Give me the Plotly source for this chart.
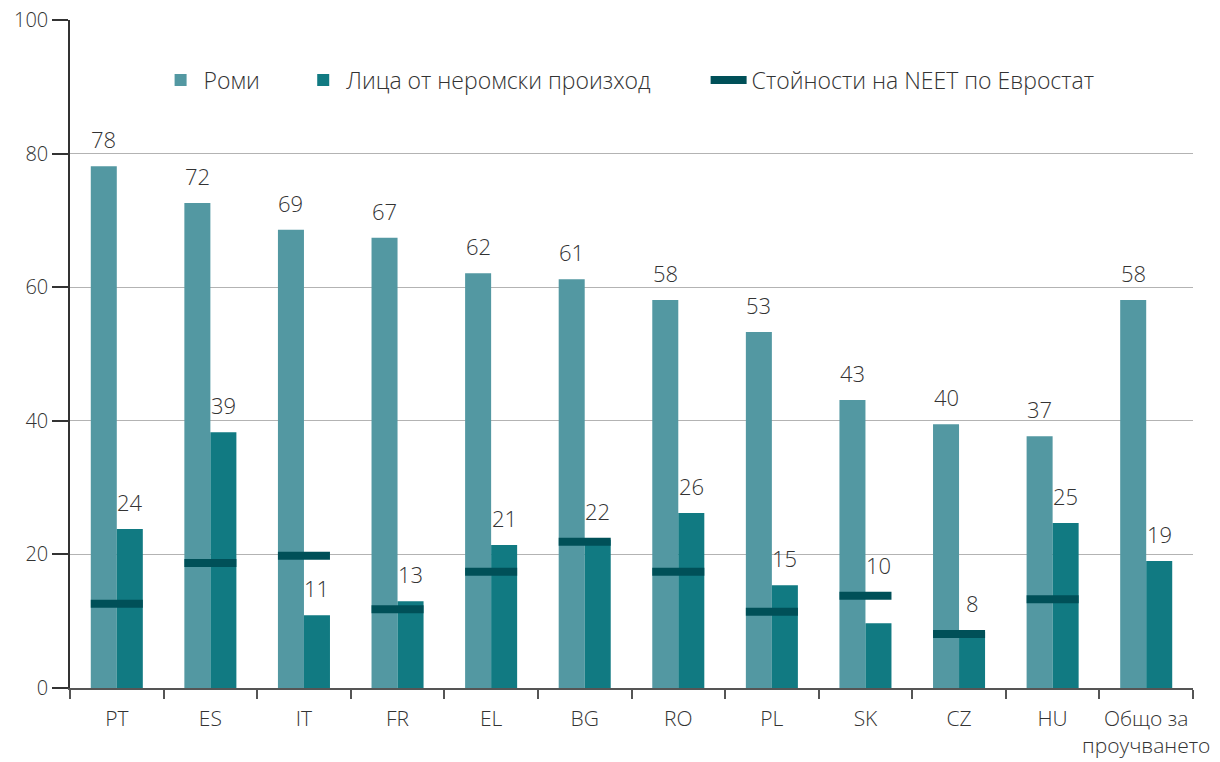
import plotly.graph_objects as go

categories = ["PT", "ES", "IT", "FR", "EL", "BG", "RO", "PL", "SK", "CZ", "HU", "Общо за<br>проучването"]
roma = [78.1, 72.6, 68.6, 67.4, 62.1, 61.2, 58.1, 53.3, 43.1, 39.5, 37.7, 58.1]
non_roma = [23.8, 38.3, 10.9, 13.0, 21.4, 22.2, 26.2, 15.4, 9.7, 8.4, 24.7, 19.0]
neet = [12.6, 18.7, 19.8, 11.8, 17.4, 21.9, 17.4, 11.4, 13.8, 8.1, 13.3, None]
roma_labels = ["78", "72", "69", "67", "62", "61", "58", "53", "43", "40", "37", "58"]
non_roma_labels = ["24", "39", "11", "13", "21", "22", "26", "15", "10", "8", "25", "19"]

C_ROMA = "#5398a2"
C_NON = "#117a82"
C_NEET = "#005058"
FONT = "Open Sans"
TXT = "#333333"

W = 0.278
THICK = 1.2
LABEL_SPAN = 5.0  # vertical room (data units) a label needs above its bar

fig = go.Figure()
fig.add_trace(go.Bar(x=categories, y=roma, name="Роми", marker_color=C_ROMA,
                     offset=-W, width=W, marker_line_width=0, legend="legend"))
fig.add_trace(go.Bar(x=categories, y=non_roma, name="Лица от неромски произход", marker_color=C_NON,
                     offset=0, width=W, marker_line_width=0, legend="legend2"))
neet_cats = [c for c, v in zip(categories, neet) if v is not None]
neet_vals = [v for v in neet if v is not None]
fig.add_trace(go.Bar(x=neet_cats, y=[THICK] * len(neet_vals), base=[v - THICK / 2 for v in neet_vals],
                     marker_color=C_NEET, offset=-W, width=2 * W, marker_line_width=0,
                     showlegend=False, name="Стойности на NEET по Евростат"))
fig.add_trace(go.Scatter(x=[None], y=[None], mode="lines", name="Стойности на NEET по Евростат",
                         line=dict(color=C_NEET, width=8), legend="legend3"))

lab_font = dict(size=22, color=TXT, family=FONT, weight=300)
for c, v, t in zip(categories, roma, roma_labels):
    fig.add_annotation(x=c, y=v, text=t, showarrow=False, xshift=-13, yshift=10, yanchor="bottom",
                       font=lab_font)
for c, v, n, t in zip(categories, non_roma, neet, non_roma_labels):
    top = v
    if n is not None and (n - THICK / 2) < v + LABEL_SPAN and (n + THICK / 2) > v:
        top = n + THICK / 2
    fig.add_annotation(x=c, y=top, text=t, showarrow=False, xshift=13, yshift=10, yanchor="bottom",
                       font=lab_font)

leg_common = dict(orientation="h", y=0.91, xanchor="left", yanchor="middle",
                  font=dict(size=23, color=TXT, family=FONT, weight=300),
                  bgcolor="rgba(0,0,0,0)", itemwidth=36)

fig.update_layout(
    width=1220, height=762,
    margin=dict(l=70, r=27, t=20, b=74, autoexpand=False),
    plot_bgcolor="white", paper_bgcolor="white",
    barmode="overlay",
    font=dict(family=FONT, size=20, color=TXT),
    legend=dict(x=0.078, **leg_common),
    legend2=dict(x=0.205, **leg_common),
    legend3=dict(x=0.566, **leg_common),
    xaxis=dict(type="category", showline=True, linecolor="#555555", linewidth=1.5,
               ticks="outside", tickson="boundaries", ticklen=9, tickcolor="#555555", tickwidth=1.5,
               showgrid=False, tickangle=0, automargin=False, ticklabelstandoff=11,
               ticklabeloverflow="allow",
               tickfont=dict(size=21, color=TXT, family=FONT, weight=300)),
    yaxis=dict(range=[0, 100], dtick=20, showline=True, linecolor="#333333", linewidth=1.5,
               ticks="outside", ticklen=16, tickcolor="#333333", tickwidth=1.5,
               showgrid=True, gridcolor="#b3b3b3", gridwidth=1, zeroline=False, automargin=False,
               ticklabeloverflow="allow",
               tickfont=dict(size=20, color=TXT, family=FONT, weight=300)),
)

fig.write_html("out.html", config={"displayModeBar": False},
               post_script="document.body.style.margin='0';document.body.style.overflow='hidden';")
